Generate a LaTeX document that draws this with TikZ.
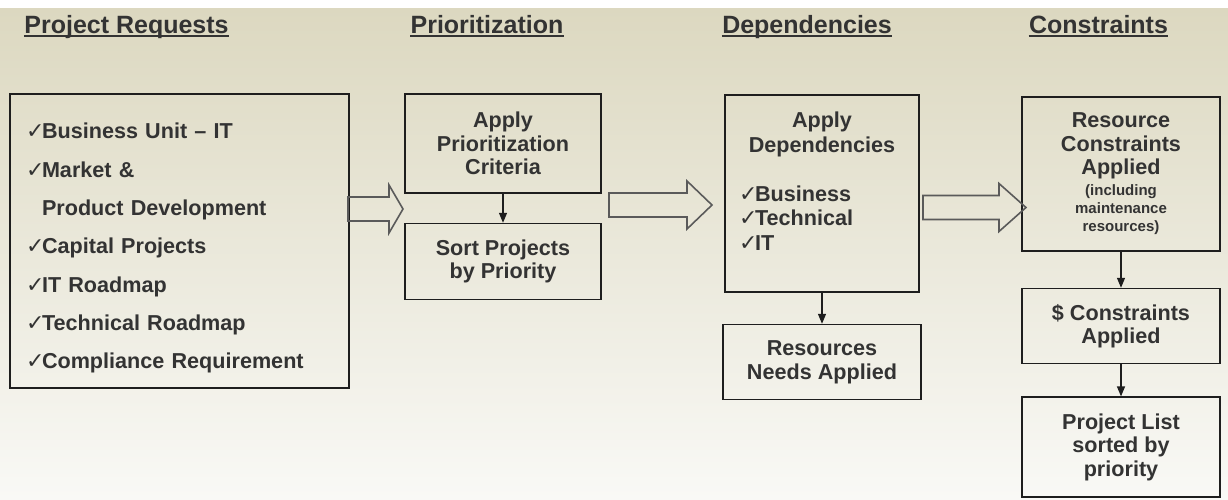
\documentclass[tikz,border=0pt]{standalone}
\usepackage{fontspec}
\setmainfont{Liberation Sans}
\newfontfamily\symfont{DejaVu Sans}
\usetikzlibrary{arrows.meta,positioning}

\definecolor{ink}{HTML}{333333}
\definecolor{edge}{HTML}{1E1E1E}
\definecolor{paper}{HTML}{DCD8C0}
\definecolor{paperlight}{HTML}{F9F9F6}
\definecolor{arrowgray}{HTML}{5A5A5A}

\newcommand{\chkmark}{\makebox[8pt][l]{\symfont\mdseries\fontsize{11}{11}\selectfont ✓}}
% hollow block arrow: tail x, head start x, tip x, centre y
\newcommand{\bigarrow}[4]{%
  \draw[blockarrow] (#1,#4-12) -- (#2,#4-12) -- (#2,#4-24) -- (#3,#4)
    -- (#2,#4+24) -- (#2,#4+12) -- (#1,#4+12) -- cycle;}

\begin{document}
\begin{tikzpicture}[
  x=0.5pt, y=-0.5pt,
  head/.style={font=\fontsize{12.5}{14}\selectfont\bfseries, text=ink, inner sep=0pt, anchor=base},
  stepbox/.style={draw=edge, line width=0.8pt, minimum width=98pt, align=center, text=ink, font=\fontsize{10.8}{11.8}\selectfont\bfseries, inner sep=2pt},
  flow/.style={-{Triangle[width=4pt,length=5pt]}, line width=0.6pt, draw=edge},
  blockarrow/.style={draw=arrowgray, line width=0.8pt, line join=miter},
]
\useasboundingbox (0,0) rectangle (1228,499);
\fill[white] (0,0) rectangle (1228,8);
\shade[top color=paper, middle color=paper!55!paperlight, bottom color=paperlight] (0,8) rectangle (1228,499);

% column headings
\node[head] (hreq) at (126.5,33) {Project Requests};
\node[head] (hpri) at (487,33) {Prioritization};
\node[head] (hdep) at (807,33) {Dependencies};
\node[head] (hcon) at (1098.5,33) {Constraints};
\foreach \h in {hreq,hpri,hdep,hcon}
  \draw[ink, line width=0.9pt] ([yshift=-1.4pt]\h.base west) -- ([yshift=-1.4pt]\h.base east);

% requests
\node[stepbox, text width=153.5pt, align=left, inner xsep=8pt, minimum height=147pt,
  font=\fontsize{10.8}{19.15}\selectfont\bfseries] (req) at (179.5,241) {%
  \rule{0pt}{15pt}\chkmark Business Unit -- IT\\
  \chkmark Market \&\\
  \phantom{\chkmark}Product Development\\
  \chkmark Capital Projects\\
  \chkmark IT Roadmap\\
  \chkmark Technical Roadmap\\
  \chkmark Compliance Requirement};

% prioritization
\node[stepbox, minimum height=49.5pt] (crit) at (503,143.5) {Apply\\Prioritization\\Criteria};
\node[stepbox, minimum height=38pt, below=14.5pt of crit] (sort) {Sort Projects\\by Priority};

% dependencies
\node[stepbox, minimum width=97pt, text width=97pt, align=left, inner xsep=0pt, minimum height=98.5pt,
  font=\fontsize{10.8}{12.3}\selectfont\bfseries] (dep) at (822,193.5) {%
  \makebox[\linewidth]{Apply}\\
  \makebox[\linewidth]{Dependencies}\\[12pt]
  \hspace*{7pt}\chkmark Business\\
  \hspace*{7pt}\chkmark Technical\\
  \hspace*{7pt}\chkmark IT\\
  \mbox{}};
\node[stepbox, minimum width=99pt, minimum height=37.5pt, below=15.5pt of dep] (resn) {Resources\\Needs Applied};

% constraints
\node[stepbox, minimum width=99pt, text width=95pt, minimum height=77pt] (rcon) at (1121,174) {%
  Resource\\Constraints\\Applied\par\vspace{1.5pt}
  {\fontsize{7.5}{9}\selectfont (including\\maintenance\\resources)\par}};
\node[stepbox, minimum width=99pt, minimum height=37.5pt, below=18pt of rcon] (dcon) {\$ Constraints\\Applied};
\node[stepbox, minimum width=99pt, minimum height=50pt, below=16pt of dcon] (plist) {Project List\\sorted by\\priority};

\draw[flow] (crit) -- (sort);
\draw[flow] (dep) -- (resn);
\draw[flow] (rcon) -- (dcon);
\draw[flow] (dcon) -- (plist);

% hollow arrows between the columns
\bigarrow{348}{389}{403}{209}
\bigarrow{609}{687}{712}{205}
\bigarrow{923}{999}{1026}{207.5}
\end{tikzpicture}
\end{document}
